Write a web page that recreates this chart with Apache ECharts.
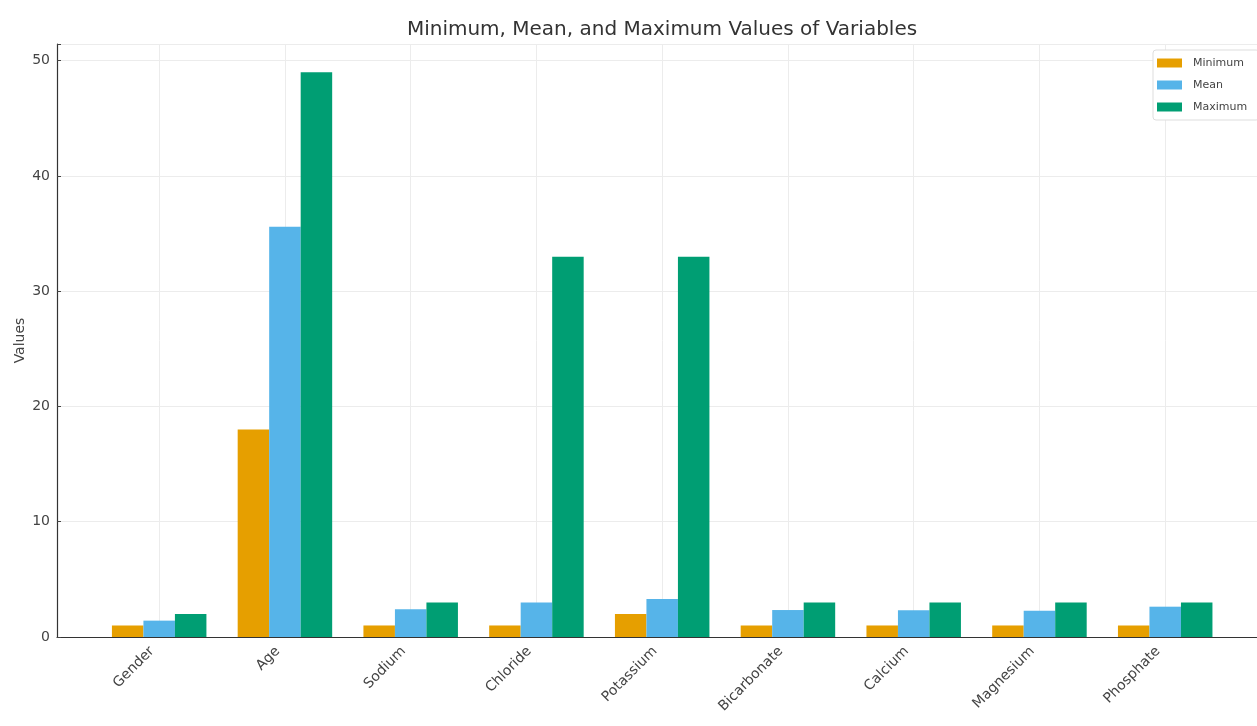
<!DOCTYPE html>
<html>
<head>
<meta charset="utf-8">
<script src="https://cdn.jsdelivr.net/npm/echarts@6/dist/echarts.min.js"></script>
<style>
html,body{margin:0;padding:0;background:#fff;overflow:hidden;}
#chart{width:1257px;height:726px;}
</style>
</head>
<body>
<div id="chart"></div>
<script>
const categories = ['Gender','Age','Sodium','Chloride','Potassium','Bicarbonate','Calcium','Magnesium','Phosphate'];
const minimumValues = [1, 18, 1, 1, 2, 1, 1, 1, 1];
const meanValues = [1.42, 35.6, 2.4, 3.0, 3.3, 2.34, 2.32, 2.27, 2.63];
const maximumValues = [2, 49, 3, 33, 33, 3, 3, 3, 3];
const yTicks = [0, 10, 20, 30, 40, 50];

const chart = echarts.init(document.getElementById('chart'), null, {renderer: 'canvas'});
const font = 'DejaVu Sans';
const idx = categories.map((c, i) => i);
function pairs(arr) { return arr.map((v, i) => [i, v]); }

const option = {
  backgroundColor: '#ffffff',
  animation: false,
  title: {
    text: 'Minimum, Mean, and Maximum Values of Variables',
    left: 657, top: 15, textAlign: 'center',
    textStyle: {fontFamily: font, fontSize: 20, fontWeight: 'normal', color: '#333'}
  },
  legend: {
    orient: 'vertical',
    left: 1153, top: 50,
    itemWidth: 25, itemHeight: 9, itemGap: 8,
    padding: [6, 12, 6, 4],
    borderColor: '#dddddd', borderWidth: 1, borderRadius: 3,
    backgroundColor: '#fff',
    textStyle: {fontFamily: font, fontSize: 11, color: '#444', lineHeight: 14, padding: [0, 0, 0, 6]},
    icon: 'rect',
    data: ['Minimum', 'Mean', 'Maximum']
  },
  grid: {left: 57, right: 0, top: 44, bottom: 89, containLabel: false, outerBoundsMode: 'none'},
  xAxis: {
    type: 'value',
    min: -0.8125, max: 8.73,
    axisLine: {show: true, onZero: false, lineStyle: {color: '#333', width: 1.2}},
    axisTick: {show: true, inside: true, length: 4, customValues: idx, lineStyle: {color: '#444'}},
    axisLabel: {
      customValues: idx,
      rotate: 45, margin: 5,
      padding: [0, 10, 0, 0],
      fontFamily: font, fontSize: 14, color: '#444',
      formatter: v => categories[Math.round(v)] || ''
    },
    splitLine: {show: true, lineStyle: {color: '#ececec', width: 1}}
  },
  yAxis: {
    type: 'value',
    min: 0, max: 51.45, interval: 10,
    name: 'Values', nameLocation: 'middle', nameGap: 30, nameMoveOverlap: false,
    nameTextStyle: {fontFamily: font, fontSize: 14, color: '#444'},
    axisLine: {show: true, onZero: false, lineStyle: {color: '#333', width: 1.2}},
    axisTick: {show: true, inside: true, length: 4, lineStyle: {color: '#444'}},
    axisLabel: {fontFamily: font, fontSize: 14, color: '#444', margin: 7,
      formatter: v => yTicks.includes(v) ? String(v) : ''},
    splitLine: {show: true, lineStyle: {color: '#ececec', width: 1}}
  },
  series: [
    {name: 'Minimum', type: 'bar', data: pairs(minimumValues), barWidth: 31.5, barGap: '0%', itemStyle: {color: '#E69F00'}},
    {name: 'Mean', type: 'bar', data: pairs(meanValues), barWidth: 31.5, barGap: '0%', itemStyle: {color: '#56B4E9'}},
    {name: 'Maximum', type: 'bar', data: pairs(maximumValues), barWidth: 31.5, barGap: '0%', itemStyle: {color: '#009E73'}}
  ]
};
chart.setOption(option);
</script>
</body>
</html>
